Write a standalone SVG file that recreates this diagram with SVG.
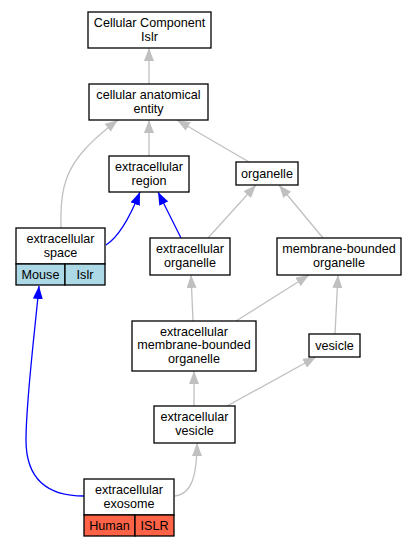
<svg xmlns="http://www.w3.org/2000/svg" width="416" height="547" viewBox="0 0 416 547">
<defs>
<style>
.box{fill:#ffffff;stroke:#000000;stroke-width:1.3}
.mouse{fill:#add8e6;stroke:#000000;stroke-width:1.3}
.human{fill:#ff6347;stroke:#000000;stroke-width:1.3}
text{font-family:"Liberation Sans",Arial,sans-serif;font-size:12.6px;fill:#000000;text-anchor:middle}
.g{fill:none;stroke:#c0c0c0;stroke-width:1.3}
.b{fill:none;stroke:#0000ff;stroke-width:1.3}
</style>
<marker id="ag" markerUnits="userSpaceOnUse" viewBox="0 0 13 10" refX="13" refY="5" markerWidth="13" markerHeight="10" orient="auto">
<path d="M0,0 L13,5 L0,10 z" fill="#c0c0c0"/>
</marker>
<marker id="ab" markerUnits="userSpaceOnUse" viewBox="0 0 13 10" refX="13" refY="5" markerWidth="13" markerHeight="10" orient="auto">
<path d="M0,0 L13,5 L0,10 z" fill="#0000ff"/>
</marker>
</defs>
<rect width="416" height="547" fill="#ffffff"/>
<g id="connectors">
<path class="g" marker-end="url(#ag)" d="M149,84 L149,48"/>
<path class="g" marker-end="url(#ag)" d="M149,156 L149,120"/>
<path class="g" marker-end="url(#ag)" d="M249,162 L177,120"/>
<path class="g" marker-end="url(#ag)" d="M61,228 C60,195 64,175 80,155 C92,140 106,129 118,120"/>
<path class="b" marker-end="url(#ab)" d="M106,245 C117,238 128,222 140,192"/>
<path class="b" marker-end="url(#ab)" d="M181,238 L158,192"/>
<path class="g" marker-end="url(#ag)" d="M208,238 L256,185"/>
<path class="g" marker-end="url(#ag)" d="M323,238 L279,185"/>
<path class="g" marker-end="url(#ag)" d="M193,321 L191,275"/>
<path class="g" marker-end="url(#ag)" d="M236,321 L309,275"/>
<path class="g" marker-end="url(#ag)" d="M335,334 L338,275"/>
<path class="g" marker-end="url(#ag)" d="M194,406 L194,371"/>
<path class="g" marker-end="url(#ag)" d="M227,406 L316,357"/>
<path class="g" marker-end="url(#ag)" d="M175,496 C192,494 197,475 197,443"/>
<path class="b" marker-end="url(#ab)" d="M84,496 C48,496 26,480 26,440 C26,400 35,330 39,286"/>
</g>
<g id="cellular_component">
<rect class="box" x="88" y="12" width="123" height="36"/>
<text x="149.5" y="27">Cellular Component</text>
<text x="149.5" y="40.5">Islr</text>
</g>
<g id="cellular_anatomical_entity">
<rect class="box" x="89" y="84" width="119" height="36"/>
<text x="148.5" y="99">cellular anatomical</text>
<text x="148.5" y="112.5">entity</text>
</g>
<g id="extracellular_region">
<rect class="box" x="109" y="156" width="80" height="36"/>
<text x="149" y="171">extracellular</text>
<text x="149" y="184.5">region</text>
</g>
<g id="organelle">
<rect class="box" x="236" y="162" width="62" height="23"/>
<text x="267" y="177.5">organelle</text>
</g>
<g id="extracellular_space">
<rect class="box" x="16" y="228" width="89" height="36"/>
<text x="60.5" y="243">extracellular</text>
<text x="60.5" y="256.5">space</text>
<rect class="mouse" x="16" y="264" width="49" height="21"/>
<rect class="mouse" x="65" y="264" width="40" height="21"/>
<text x="40.5" y="279">Mouse</text>
<text x="85" y="279">Islr</text>
</g>
<g id="extracellular_organelle">
<rect class="box" x="150" y="238" width="80" height="37"/>
<text x="190" y="253">extracellular</text>
<text x="190" y="266.5">organelle</text>
</g>
<g id="membrane_bounded_organelle">
<rect class="box" x="277" y="238" width="124" height="37"/>
<text x="339" y="253">membrane-bounded</text>
<text x="339" y="266.5">organelle</text>
</g>
<g id="extracellular_membrane_bounded_organelle">
<rect class="box" x="132" y="321" width="124" height="50"/>
<text x="194" y="335.5">extracellular</text>
<text x="194" y="349">membrane-bounded</text>
<text x="194" y="362.5">organelle</text>
</g>
<g id="vesicle">
<rect class="box" x="309" y="334" width="51" height="23"/>
<text x="334.5" y="349.5">vesicle</text>
</g>
<g id="extracellular_vesicle">
<rect class="box" x="154" y="406" width="81" height="37"/>
<text x="194.5" y="421">extracellular</text>
<text x="194.5" y="434.5">vesicle</text>
</g>
<g id="extracellular_exosome">
<rect class="box" x="84" y="479" width="90" height="36"/>
<text x="129" y="494">extracellular</text>
<text x="129" y="507.5">exosome</text>
<rect class="human" x="84" y="515" width="51" height="21"/>
<rect class="human" x="135" y="515" width="39" height="21"/>
<text x="109.5" y="530">Human</text>
<text x="154.5" y="530">ISLR</text>
</g>
</svg>
